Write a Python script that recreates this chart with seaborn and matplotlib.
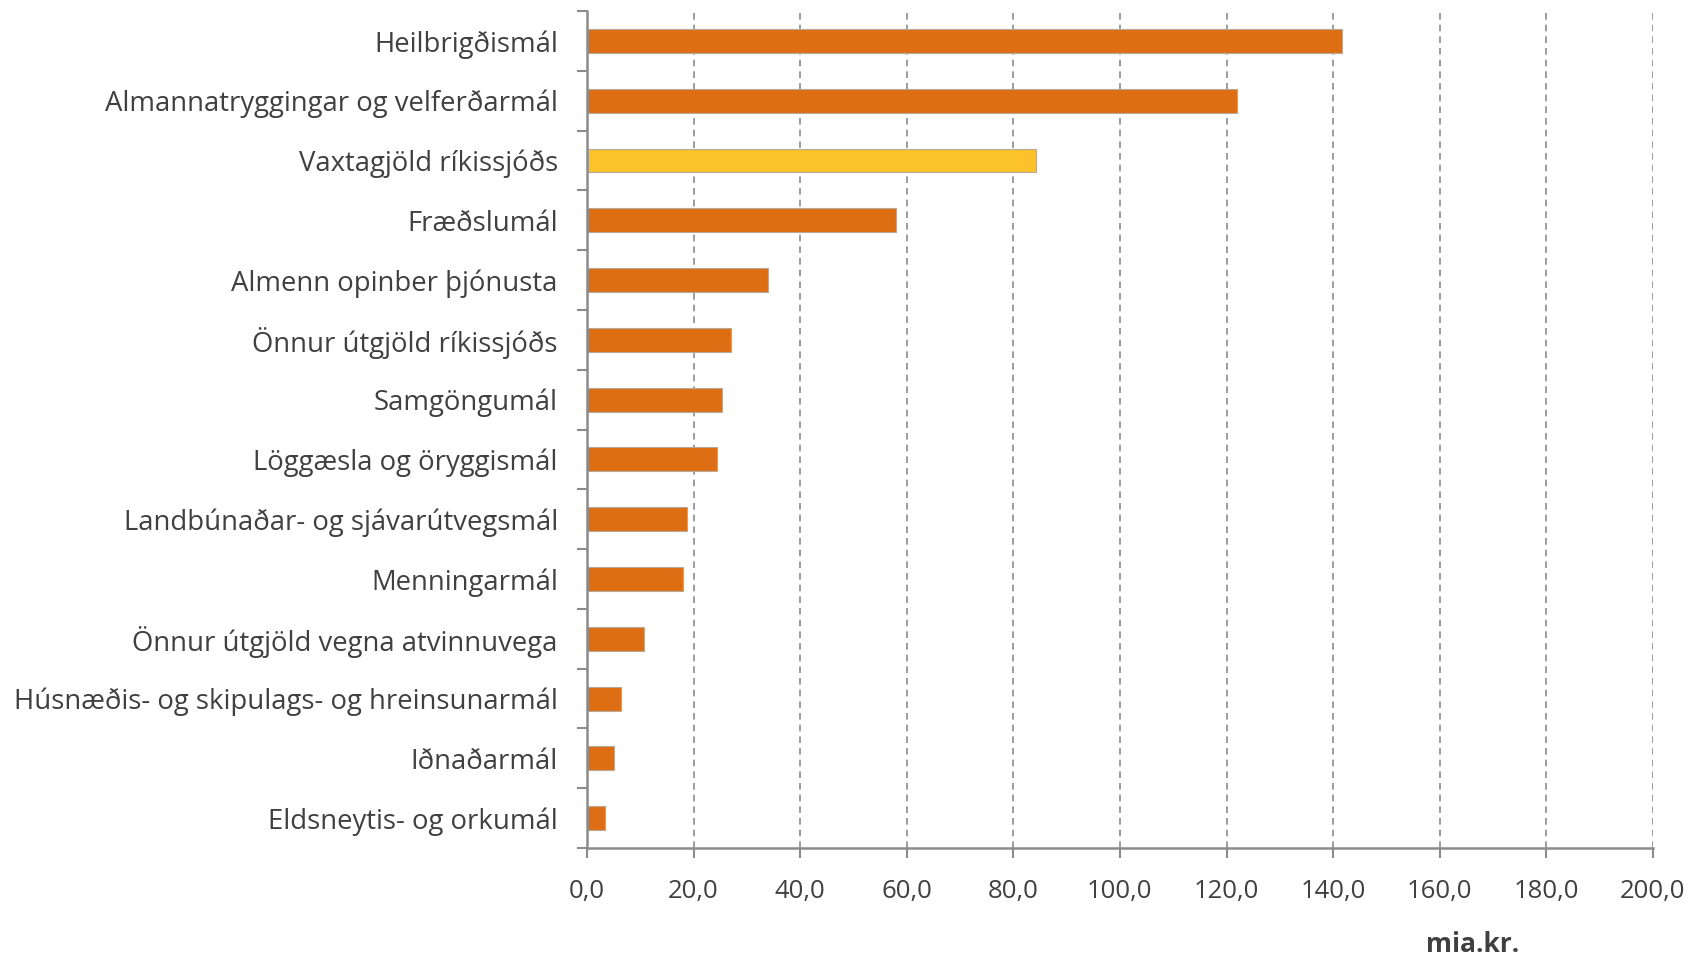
import numpy as np
import pandas as pd
import matplotlib
matplotlib.use("Agg")
import matplotlib.pyplot as plt
from matplotlib.ticker import FixedLocator, FuncFormatter
import seaborn as sns

# ===== Data =====
categories = [
    "Heilbrigðismál",
    "Almannatryggingar og velferðarmál",
    "Vaxtagjöld ríkissjóðs",
    "Fræðslumál",
    "Almenn opinber þjónusta",
    "Önnur útgjöld ríkissjóðs",
    "Samgöngumál",
    "Löggæsla og öryggismál",
    "Landbúnaðar- og sjávarútvegsmál",
    "Menningarmál",
    "Önnur útgjöld vegna atvinnuvega",
    "Húsnæðis- og skipulags- og hreinsunarmál",
    "Iðnaðarmál",
    "Eldsneytis- og orkumál",
]
values = [141.6, 122.0, 84.2, 58.0, 33.9, 27.1, 25.4, 24.4, 18.8, 18.1, 10.7, 6.3, 5.1, 3.4]
highlight = "Vaxtagjöld ríkissjóðs"
x_ticks = [0, 20, 40, 60, 80, 100, 120, 140, 160, 180, 200]
x_unit = "mia.kr."

ORANGE = "#DD6E14"
YELLOW = "#FBC22B"
TEXT = "#404040"
AXIS = "#8C8C8C"

df = pd.DataFrame({"flokkur": categories, "value": values})
df["group"] = np.where(df["flokkur"] == highlight, "hl", "base")

sns.set_style("white")
plt.rcParams["font.family"] = ["Open Sans", "DejaVu Sans"]

fig = plt.figure(figsize=(16.91, 9.59), dpi=100)
ax = fig.add_axes([0.3471, 0.1157, 0.9775 - 0.3471, 0.9885 - 0.1157])

sns.barplot(data=df, x="value", y="flokkur", hue="group", orient="h",
            palette={"base": ORANGE, "hl": YELLOW}, width=0.4, saturation=1,
            edgecolor="#B8A898", linewidth=0.8, legend=False, dodge=False, ax=ax)

ax.set_xlim(0, 200)
ax.set_ylim(len(categories) - 0.5, -0.5)
ax.xaxis.set_major_locator(FixedLocator(x_ticks))
ax.xaxis.set_major_formatter(FuncFormatter(lambda v, p: f"{v:.1f}".replace(".", ",")))

# dashed vertical gridlines
ax.grid(axis="x", linestyle=(0, (4, 3)), color="#8C8C8C", linewidth=1.2)
ax.grid(axis="y", visible=False)
ax.set_axisbelow(True)

# category boundary ticks on y-axis
ax.yaxis.set_minor_locator(FixedLocator(np.arange(-0.5, len(categories), 1)))
ax.tick_params(axis="y", which="major", length=0, pad=21, labelsize=19.8, labelcolor=TEXT)
ax.tick_params(axis="y", which="minor", length=7, width=1.5, color=AXIS, direction="out", left=True)
ax.tick_params(axis="x", which="major", length=7, width=1.5, color=AXIS, direction="out",
               pad=15, labelsize=18.5, labelcolor=TEXT, bottom=True)

for s in ["top", "right"]:
    ax.spines[s].set_visible(False)
for s in ["left", "bottom"]:
    ax.spines[s].set_color(AXIS)
    ax.spines[s].set_linewidth(1.8)

ax.set_xlabel("")
ax.set_ylabel("")

fig.text(1473 / 1691, 1 - 945 / 959, x_unit, ha="center", va="center",
         fontsize=19, fontweight="bold", color=TEXT)

fig.savefig("out.png", dpi=100, facecolor="white")
